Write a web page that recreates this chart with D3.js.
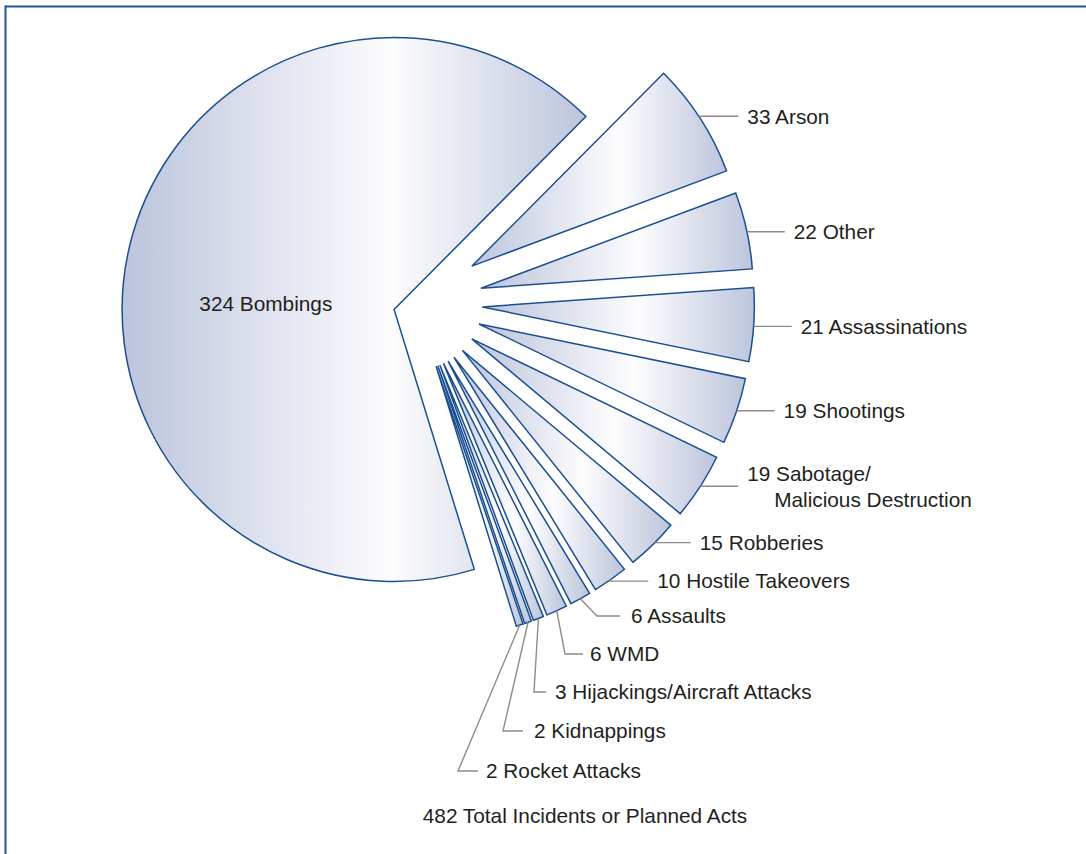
<!DOCTYPE html>
<html><head><meta charset="utf-8">
<script src="https://cdn.jsdelivr.net/npm/d3@7"></script>
<style>html,body{margin:0;padding:0;background:#fff;} svg{display:block;}</style>
</head><body>
<script>
// ---------- data ----------
const categories = ["Bombings","Arson","Other","Assassinations","Shootings",
  "Sabotage/Malicious Destruction","Robberies","Hostile Takeovers","Assaults",
  "WMD","Hijackings/Aircraft Attacks","Kidnappings","Rocket Attacks"];
const counts = [324,33,22,21,19,19,15,10,6,6,3,2,2];
const labelLines = [["Bombings"],["Arson"],["Other"],["Assassinations"],["Shootings"],
  ["Sabotage/","Malicious Destruction"],["Robberies"],["Hostile Takeovers"],["Assaults"],
  ["WMD"],["Hijackings/Aircraft Attacks"],["Kidnappings"],["Rocket Attacks"]];
const totalCaption = "Total Incidents or Planned Acts";

// ---------- layout ----------
const W = 1086, H = 854;
const cx = 415.5, cy = 302.5, R = 272, explode = 67;
const bigShift = {dist: 22.5, angle: 162};   // screen degrees
const startDeg = 162.85;
const FONT = "'Liberation Sans', Arial, Helvetica, sans-serif";
const FS = 20.8;
// small vertical nudges of right-hand leaders (px)
const rightNudge = [0, -2.4, 1.4, 1.6, -0.5, -0.4, -2, 1.2];
// bottom labels: elbow point, end of horizontal leader, text start
const bottomLayout = [
  {elbow:[597,616], end:620, text:631},
  {elbow:[565,654], end:583, text:590},
  {elbow:[534,692], end:546, text:555},
  {elbow:[503,731], end:523, text:534},
  {elbow:[458,771], end:478, text:486}
];

const svg = d3.select("body").append("svg").attr("width", W).attr("height", H);

const defs = svg.append("defs");
const grad = defs.append("linearGradient").attr("id","sliceGrad")
  .attr("x1",0).attr("y1",0).attr("x2",1).attr("y2",0);
grad.append("stop").attr("offset",0).attr("stop-color","#bcc4dc");
grad.append("stop").attr("offset",0.58).attr("stop-color","#fdfdfe");
grad.append("stop").attr("offset",1).attr("stop-color","#bdc5dc");

// frame
svg.append("line").attr("x1",5).attr("x2",W).attr("y1",6.5).attr("y2",6.5)
  .attr("stroke","#23579a").attr("stroke-width",2);
svg.append("line").attr("x1",5.5).attr("x2",5.5).attr("y1",5.5).attr("y2",H)
  .attr("stroke","#23579a").attr("stroke-width",2);

const a0 = startDeg*Math.PI/180;
const pie = d3.pie().sort(null).value(d => d).startAngle(a0).endAngle(a0 + 2*Math.PI);
const arcs = pie(counts);
const arcGen = d3.arc().innerRadius(0).outerRadius(R);

function shift(a, i) {
  if (i === 0) {
    const t = bigShift.angle*Math.PI/180;
    return [bigShift.dist*Math.cos(t), bigShift.dist*Math.sin(t)];
  }
  const m = (a.startAngle + a.endAngle)/2;
  return [explode*Math.sin(m), -explode*Math.cos(m)];
}

const g = svg.append("g").attr("transform", `translate(${cx},${cy})`);
g.selectAll("path.slice").data(arcs).join("path")
  .attr("class","slice")
  .attr("transform", (d,i) => { const s = shift(d,i); return `translate(${s[0]},${s[1]})`; })
  .attr("d", arcGen)
  .attr("fill","url(#sliceGrad)")
  .attr("stroke","#1b4f90")
  .attr("stroke-width",1.5)
  .attr("stroke-linejoin","miter");

const labels = svg.append("g").attr("font-family", FONT).attr("font-size", FS).attr("fill","#231f20");
const leaders = svg.append("g").attr("fill","none").attr("stroke","#8c8c8c").attr("stroke-width",1.4);

arcs.forEach((d, i) => {
  const s = shift(d, i);
  const m = (d.startAngle + d.endAngle)/2;
  const apx = cx + s[0], apy = cy + s[1];
  const txt = counts[i] + " " + labelLines[i][0];
  if (i === 0) {
    const t = 182.5*Math.PI/180, r = 128.4;
    labels.append("text").attr("x", apx + r*Math.cos(t)).attr("y", apy + r*Math.sin(t) + 7.3)
      .attr("text-anchor","middle").text(txt);
    return;
  }
  const Mx = apx + R*Math.sin(m), My = apy - R*Math.cos(m);
  if (i <= 7) {
    const ly = My + rightNudge[i];
    const dy = ly - apy;
    const sx = apx + Math.sqrt(R*R - dy*dy);   // point on the outer arc at this height
    leaders.append("path").attr("d", d3.line()([[sx, ly],[Mx+38, ly]]));
    if (labelLines[i].length > 1) {
      labels.append("text").attr("x", Mx+47).attr("y", ly-5).text(txt);
      labels.append("text").attr("x", Mx+47+27).attr("y", ly+21.3).text(labelLines[i][1]);
    } else {
      labels.append("text").attr("x", Mx+47).attr("y", ly+7.3).text(txt);
    }
  } else {
    const L = bottomLayout[i-8];
    leaders.append("path").attr("d", d3.line()([[Mx, My], L.elbow, [L.end, L.elbow[1]]]));
    labels.append("text").attr("x", L.text).attr("y", L.elbow[1]+7.3).text(txt);
  }
});

labels.append("text").attr("x", 585).attr("y", 822.7).attr("text-anchor","middle")
  .text(d3.sum(counts) + " " + totalCaption);
</script>
</body></html>
